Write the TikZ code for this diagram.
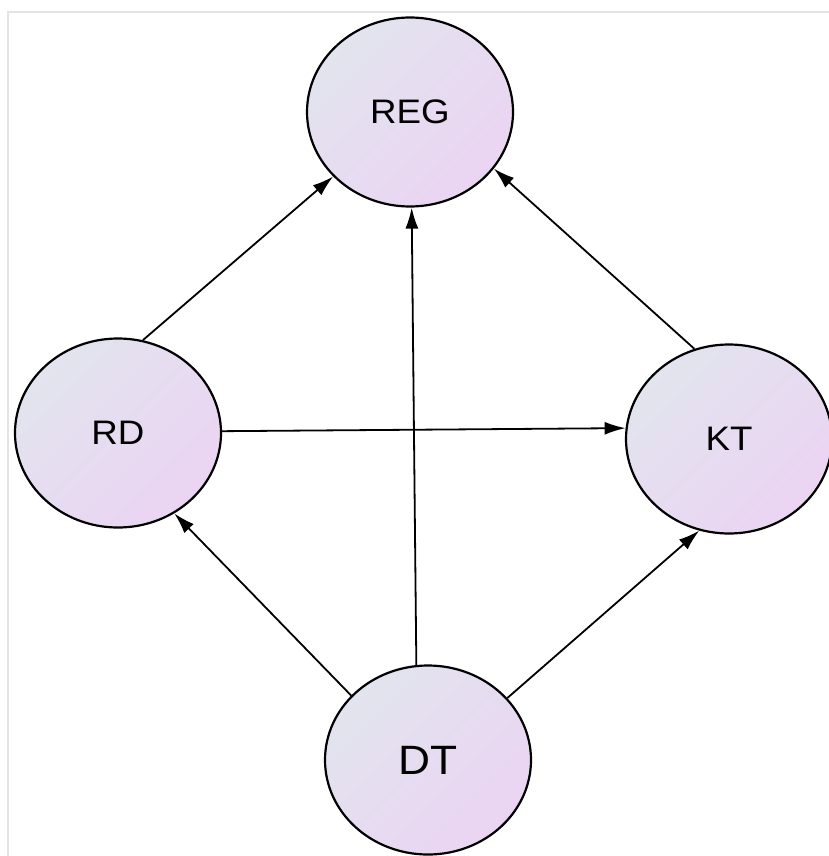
\documentclass[tikz,border=0pt]{standalone}
\usepackage{fontspec}
\setmainfont{Liberation Sans}
\usetikzlibrary{arrows.meta,shapes.geometric}
\definecolor{shadetl}{RGB}{226,228,238}
\definecolor{shadebr}{RGB}{235,212,243}
\definecolor{framegray}{RGB}{228,228,228}
\newcommand{\wide}[1]{\scalebox{1.08}[1]{#1}}

\begin{document}
\begin{tikzpicture}[x=1pt,y=-1pt,>={Latex[length=21pt,width=13pt]},line width=1.8pt]
\tikzset{var/.style={ellipse,draw,line width=2.2pt,inner sep=0pt,
  minimum width=206pt,minimum height=189pt,
  top color=shadetl,bottom color=shadebr,shading angle=45,
  font=\fontsize{34}{38}\selectfont}}
\useasboundingbox (0,0) rectangle (829,856);
\draw[framegray,line width=2pt] (8,856) -- (8,12) -- (829,12);
\node[var] (REG) at (410,112) {\wide{REG}};
\node[var] (RD) at (118,433) {\wide{RD}};
\node[var] (KT) at (729,439) {\wide{KT}};
\node[var,font=\fontsize{41}{46}\selectfont] (DT) at (428,760) {\wide{DT}};
\draw[->] (RD.75) -- (REG.220);
\draw[->] (DT.97) -- (REG.271);
\draw[->] (KT.111) -- (REG.326);
\draw[->] (RD.1) -- (KT.174);
\draw[->] (DT.140) -- (RD.305);
\draw[->] (DT.38) -- (KT.252);
\end{tikzpicture}
\end{document}
